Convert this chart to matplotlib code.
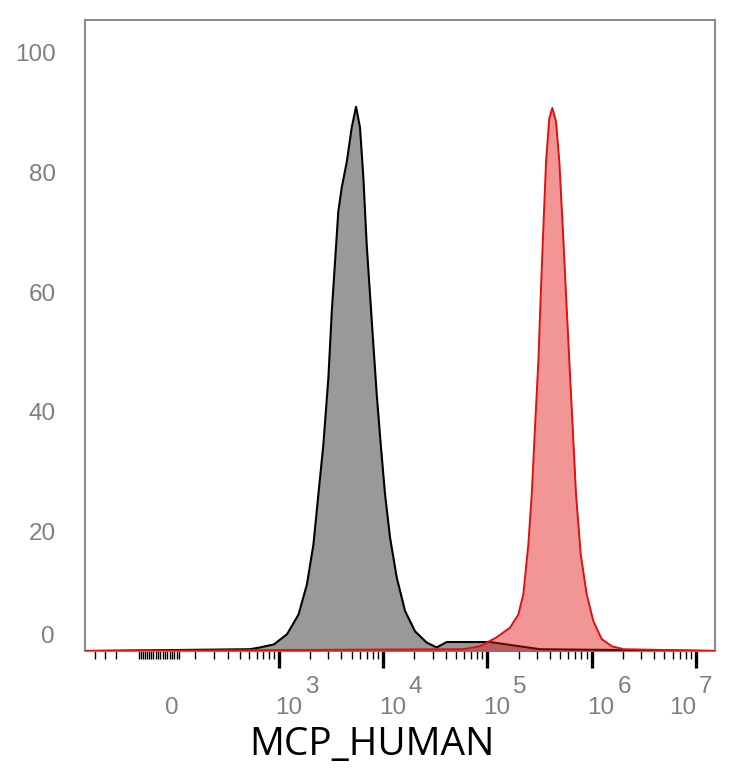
# Flow cytometry overlay histogram: isotype (grey) vs MCP_HUMAN stained (red)
import numpy as np
import matplotlib
matplotlib.use("Agg")
import matplotlib.pyplot as plt

# Histogram outlines (intensity, % of max)
gray_x = [515, 650, 890, 1195, 1545, 1860, 2150, 2400, 2680, 2995, 3230, 3470,
          3730, 4025, 4500, 5015, 5520, 6025, 6490, 6985, 7515, 8090, 8715,
          9525, 10470, 11690, 13550, 16280, 20290, 26280, 32780, 40870, 68370,
          106400, 153800, 320600]
gray_y = [0.3, 0.6, 1.1, 2.8, 6.1, 11.1, 17.8, 26.2, 34.5, 45.7, 56.8, 65.1,
          73.5, 77.5, 81.8, 87.5, 91.0, 87.5, 79.1, 67.9, 59.6, 51.2, 42.9,
          34.5, 26.2, 19.0, 12.3, 6.7, 3.3, 1.4, 0.6, 1.5, 1.5,
          1.5, 1.1, 0.3]

red_x = [58600, 85300, 123300, 165300, 198600, 221800, 247700, 267000, 287100,
         309000, 325800, 345100, 366200, 393500, 420800, 456500, 491000, 529500,
         569300, 612500, 659500, 709600, 787000, 898000, 1040000, 1250000,
         1560000, 2020000]
red_y = [0.3, 0.8, 2.3, 3.9, 6.1, 9.5, 17.8, 26.2, 37.4, 48.4, 59.6, 70.8,
         81.8, 89.1, 90.8, 88.5, 81.8, 70.8, 59.6, 48.4, 37.4, 26.2, 16.2,
         9.5, 5.0, 2.0, 0.8, 0.3]

y_ticks = [20, 40, 60, 80, 100]
decades = [3, 4, 5, 6, 7]
x_label = "MCP_HUMAN"

# biexponential-like display (arcsinh)
W = 190.0
def fwd(x):
    return np.arcsinh(np.asarray(x, dtype=float) / W) / np.log(10)
def inv(u):
    return W * np.sinh(np.asarray(u, dtype=float) * np.log(10))

x_lo, x_hi = -635, 1.526e7
fs = 17.5
gray_txt = "#7f7f7f"

fig = plt.figure(figsize=(7.34, 7.68), dpi=100)
ax = fig.add_axes([85 / 734, 1 - 651 / 768, 630 / 734, 631 / 768])
ax.set_xscale("function", functions=(fwd, inv))
ax.set_xlim(x_lo, x_hi)
ax.set_ylim(0, 105.5)

gx = np.concatenate([[x_lo], gray_x, [x_hi]])
gy = np.concatenate([[0], gray_y, [0]])
rx = np.concatenate([[x_lo], red_x, [x_hi]])
ry = np.concatenate([[0], red_y, [0]])

ax.fill_between(gx, gy, color="#999999", lw=0, zorder=2)
ax.plot(gx, gy, color="black", lw=1.5, zorder=3)
ax.fill_between(rx, ry, color="#E01515", alpha=0.45, lw=0, zorder=4)
ax.plot(rx, ry, color="#E01010", lw=1.4, zorder=5)

for s in ax.spines.values():
    s.set_color("#8a8a8a")
    s.set_linewidth(1.5)

# y axis: labels only
ax.set_yticks(y_ticks)
ax.set_yticklabels([str(v) for v in y_ticks])
ax.tick_params(axis="y", length=0, pad=21, labelsize=fs, labelcolor=gray_txt)
for t in ax.get_yticklabels():
    t.set_fontfamily("Liberation Sans")
ax.annotate("0", xy=(0, 0), xycoords=("axes fraction", "data"),
            xytext=(-30, 14), textcoords="offset pixels", ha="right", va="center",
            fontsize=fs, color=gray_txt, family="Liberation Sans")

# x axis ticks
majors = [10.0 ** e for e in decades]
minors = [-500, -400, -300] + list(range(-150, 40, 10))
for e in [2, 3, 4, 5, 6]:
    minors += [m * 10.0 ** e for m in range(2 if e > 2 else 1, 10)]
ax.set_xticks(majors)
ax.set_xticks(minors, minor=True)
ax.set_xticklabels([])
ax.tick_params(axis="x", which="major", direction="out", length=12, width=2.4,
               color="black")
ax.tick_params(axis="x", which="minor", direction="out", length=6, width=1.0,
               color="black")

lab = dict(fontsize=fs, color=gray_txt, family="Liberation Sans", va="center",
           textcoords="offset pixels", xycoords=("data", "axes fraction"))
ax.annotate("0", xy=(0, 0), xytext=(0, -57), ha="center", **lab)
for e in decades:
    dx = -4 if e < 7 else -27
    ax.annotate("10", xy=(10.0 ** e, 0), xytext=(dx, -57), ha="left", **lab)
    ax.annotate(str(e), xy=(10.0 ** e, 0), xytext=(dx + 30, -36), ha="left", **lab)

fig.text(372 / 734, 1 - 755 / 768, x_label, ha="center", va="baseline",
         fontsize=28, family="Open Sans", color="black")

fig.savefig("out.png", dpi=100)
